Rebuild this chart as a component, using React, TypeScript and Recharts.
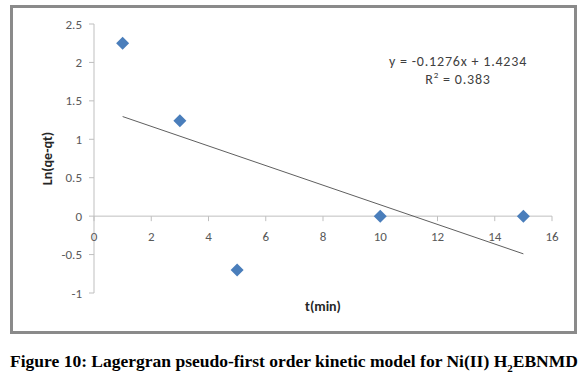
import { ScatterChart, Scatter, XAxis, YAxis, ReferenceLine, ReferenceDot } from 'recharts';

const timeMin = [1, 3, 5, 10, 15];
const lnQeQt = [2.25, 1.24, -0.7, 0, 0];
const trendX = [1, 15];
const trendY = [1.2958, -0.4906];
const xTicks = [0, 2, 4, 6, 8, 10, 12, 14, 16];
const yTicks = [-1, -0.5, 0, 0.5, 1, 1.5, 2, 2.5];

const points = timeMin.map((t, i) => ({ x: t, y: lnQeQt[i] }));
const trend = trendX.map((t, i) => ({ x: t, y: trendY[i] }));

const labelFont = 'Carlito, "Liberation Sans", Arial, sans-serif';

const Diamond = (props: any) => {
	const { cx, cy } = props;
	const r = 6.5;
	return <polygon points={`${cx},${cy - r} ${cx + r},${cy} ${cx},${cy + r} ${cx - r},${cy}`} fill="#4a7ebb" />;
};

const NoMark = () => <g />;

const makeXTick = (value: number) => (props: any) => {
	const { cx, cy } = props;
	return (
		<g>
			<line x1={cx} y1={cy} x2={cx} y2={cy + 5} stroke="#bfbfbf" />
			<text x={cx} y={cy + 25} textAnchor="middle" fill="#595959" fontSize={13} fontFamily={labelFont}>
				{value}
			</text>
		</g>
	);
};

export default function App() {
	return (
		<div style={{ position: 'absolute', left: 0, top: 0, width: 585, height: 378, background: '#fff' }}>
			<div
				style={{
					position: 'absolute',
					left: 10,
					top: 5,
					width: 567,
					height: 329,
					border: '3px solid #8a8a8a',
					boxSizing: 'border-box',
				}}
			>
				<ScatterChart width={561} height={323} margin={{ top: 16, right: 22, bottom: 8, left: 0 }}>
					<XAxis
						type="number"
						dataKey="x"
						domain={[0, 16]}
						ticks={xTicks}
						axisLine={false}
						tick={false}
						tickLine={false}
						height={30}
						label={{ value: 't(min)', position: 'center', dy: -2, fill: '#262626', fontSize: 14, fontWeight: 'bold', fontFamily: labelFont }}
					/>
					<YAxis
						type="number"
						dataKey="y"
						domain={[-1, 2.5]}
						ticks={yTicks}
						width={81}
						stroke="#bfbfbf"
						tickSize={5}
						tickMargin={7}
						tick={{ fill: '#595959', fontSize: 13, fontFamily: labelFont }}
						label={{
							value: 'Ln(qe-qt)',
							angle: -90,
							position: 'insideLeft',
							offset: 34,
							fill: '#262626',
							fontSize: 14,
							fontWeight: 'bold',
							fontFamily: labelFont,
							style: { textAnchor: 'middle' },
						}}
					/>
					<ReferenceLine y={0} stroke="#bfbfbf" />
					{xTicks.map((t) => (
						<ReferenceDot key={t} x={t} y={0} r={0} shape={makeXTick(t)} />
					))}
					<Scatter data={trend} line={{ stroke: '#5f5f5f', strokeWidth: 1 }} shape={NoMark} isAnimationActive={false} />
					<Scatter data={points} shape={Diamond} isAnimationActive={false} />
				</ScatterChart>
				<div
					style={{
						position: 'absolute',
						left: 345,
						top: 45,
						width: 200,
						textAlign: 'center',
						fontFamily: labelFont,
						fontSize: 14,
						letterSpacing: 0.8,
						lineHeight: '18px',
						color: '#404040',
					}}
				>
					<div>y = -0.1276x + 1.4234</div>
					<div>
						R<sup style={{ fontSize: 9, lineHeight: 0 }}>2</sup> = 0.383
					</div>
				</div>
			</div>
			<div
				style={{
					position: 'absolute',
					left: 10,
					top: 351,
					fontFamily: '"Liberation Serif", "Times New Roman", serif',
					fontWeight: 'bold',
					fontSize: 17.5,
					lineHeight: 'normal',
					color: '#000',
					whiteSpace: 'nowrap',
				}}
			>
				Figure 10: Lagergran pseudo-first order kinetic model for Ni(II) H<sub style={{ fontSize: 11, lineHeight: 0 }}>2</sub>EBNMD
			</div>
		</div>
	);
}
